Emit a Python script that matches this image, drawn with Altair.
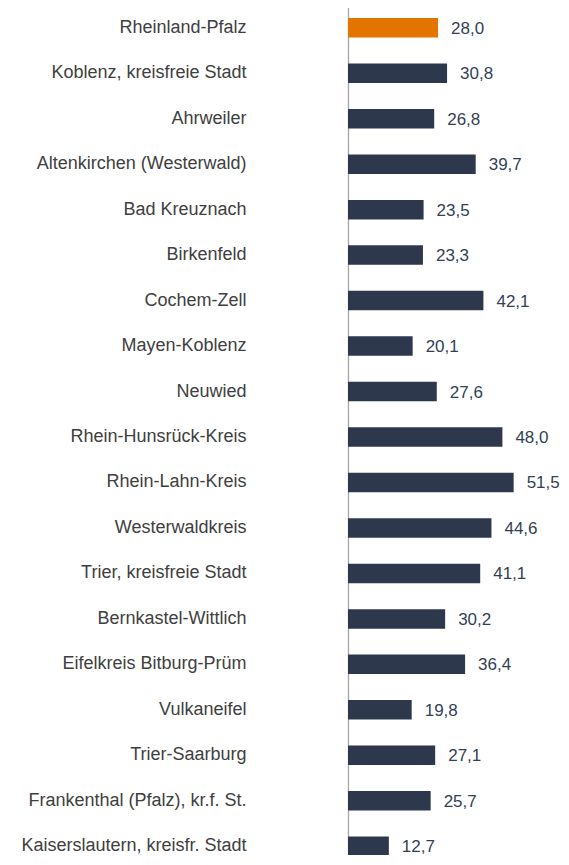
import altair as alt
import pandas as pd

regions = [
    "Rheinland-Pfalz",
    "Koblenz, kreisfreie Stadt",
    "Ahrweiler",
    "Altenkirchen (Westerwald)",
    "Bad Kreuznach",
    "Birkenfeld",
    "Cochem-Zell",
    "Mayen-Koblenz",
    "Neuwied",
    "Rhein-Hunsrück-Kreis",
    "Rhein-Lahn-Kreis",
    "Westerwaldkreis",
    "Trier, kreisfreie Stadt",
    "Bernkastel-Wittlich",
    "Eifelkreis Bitburg-Prüm",
    "Vulkaneifel",
    "Trier-Saarburg",
    "Frankenthal (Pfalz), kr.f. St.",
    "Kaiserslautern, kreisfr. Stadt",
]
values = [28.0, 30.8, 26.8, 39.7, 23.5, 23.3, 42.1, 20.1, 27.6, 48.0,
          51.5, 44.6, 41.1, 30.2, 36.4, 19.8, 27.1, 25.7, 12.7]
highlight = ["Rheinland-Pfalz"]

df = pd.DataFrame({"region": regions, "value": values})
df["label"] = [f"{v:.1f}".replace(".", ",") for v in values]
df["grp"] = ["hl" if r in highlight else "norm" for r in regions]

FONT = "Liberation Sans"

y = alt.Y(
    "region:N",
    sort=regions,
    scale=alt.Scale(paddingInner=0, paddingOuter=0),
    axis=alt.Axis(
        title=None, ticks=False, grid=False,
        labelFont=FONT, labelFontSize=18, labelColor="#404040",
        labelPadding=102, labelLimit=0,
        domainColor="#A6A6A6", domainWidth=1.3,
    ),
)
x = alt.X("value:Q", scale=alt.Scale(domain=[0, 60], nice=False), axis=None)

bars = alt.Chart(df).mark_bar(height=19.5).encode(
    x=x,
    y=y,
    color=alt.Color("grp:N", scale=alt.Scale(domain=["hl", "norm"], range=["#E37400", "#2E384D"]), legend=None),
)

texts = alt.Chart(df).mark_text(
    align="left", baseline="middle", dx=13, dy=1,
    font=FONT, fontSize=17, color="#333F55",
).encode(x=x, y=y, text="label:N")

chart = (bars + texts).properties(
    width=193, height=864,
    autosize=alt.AutoSizeParams(type="none"),
    padding={"left": 340, "top": -3, "right": 20, "bottom": -14},
).configure_view(stroke=None)

chart.save("out.html", embed_options={"renderer": "svg", "actions": False})
